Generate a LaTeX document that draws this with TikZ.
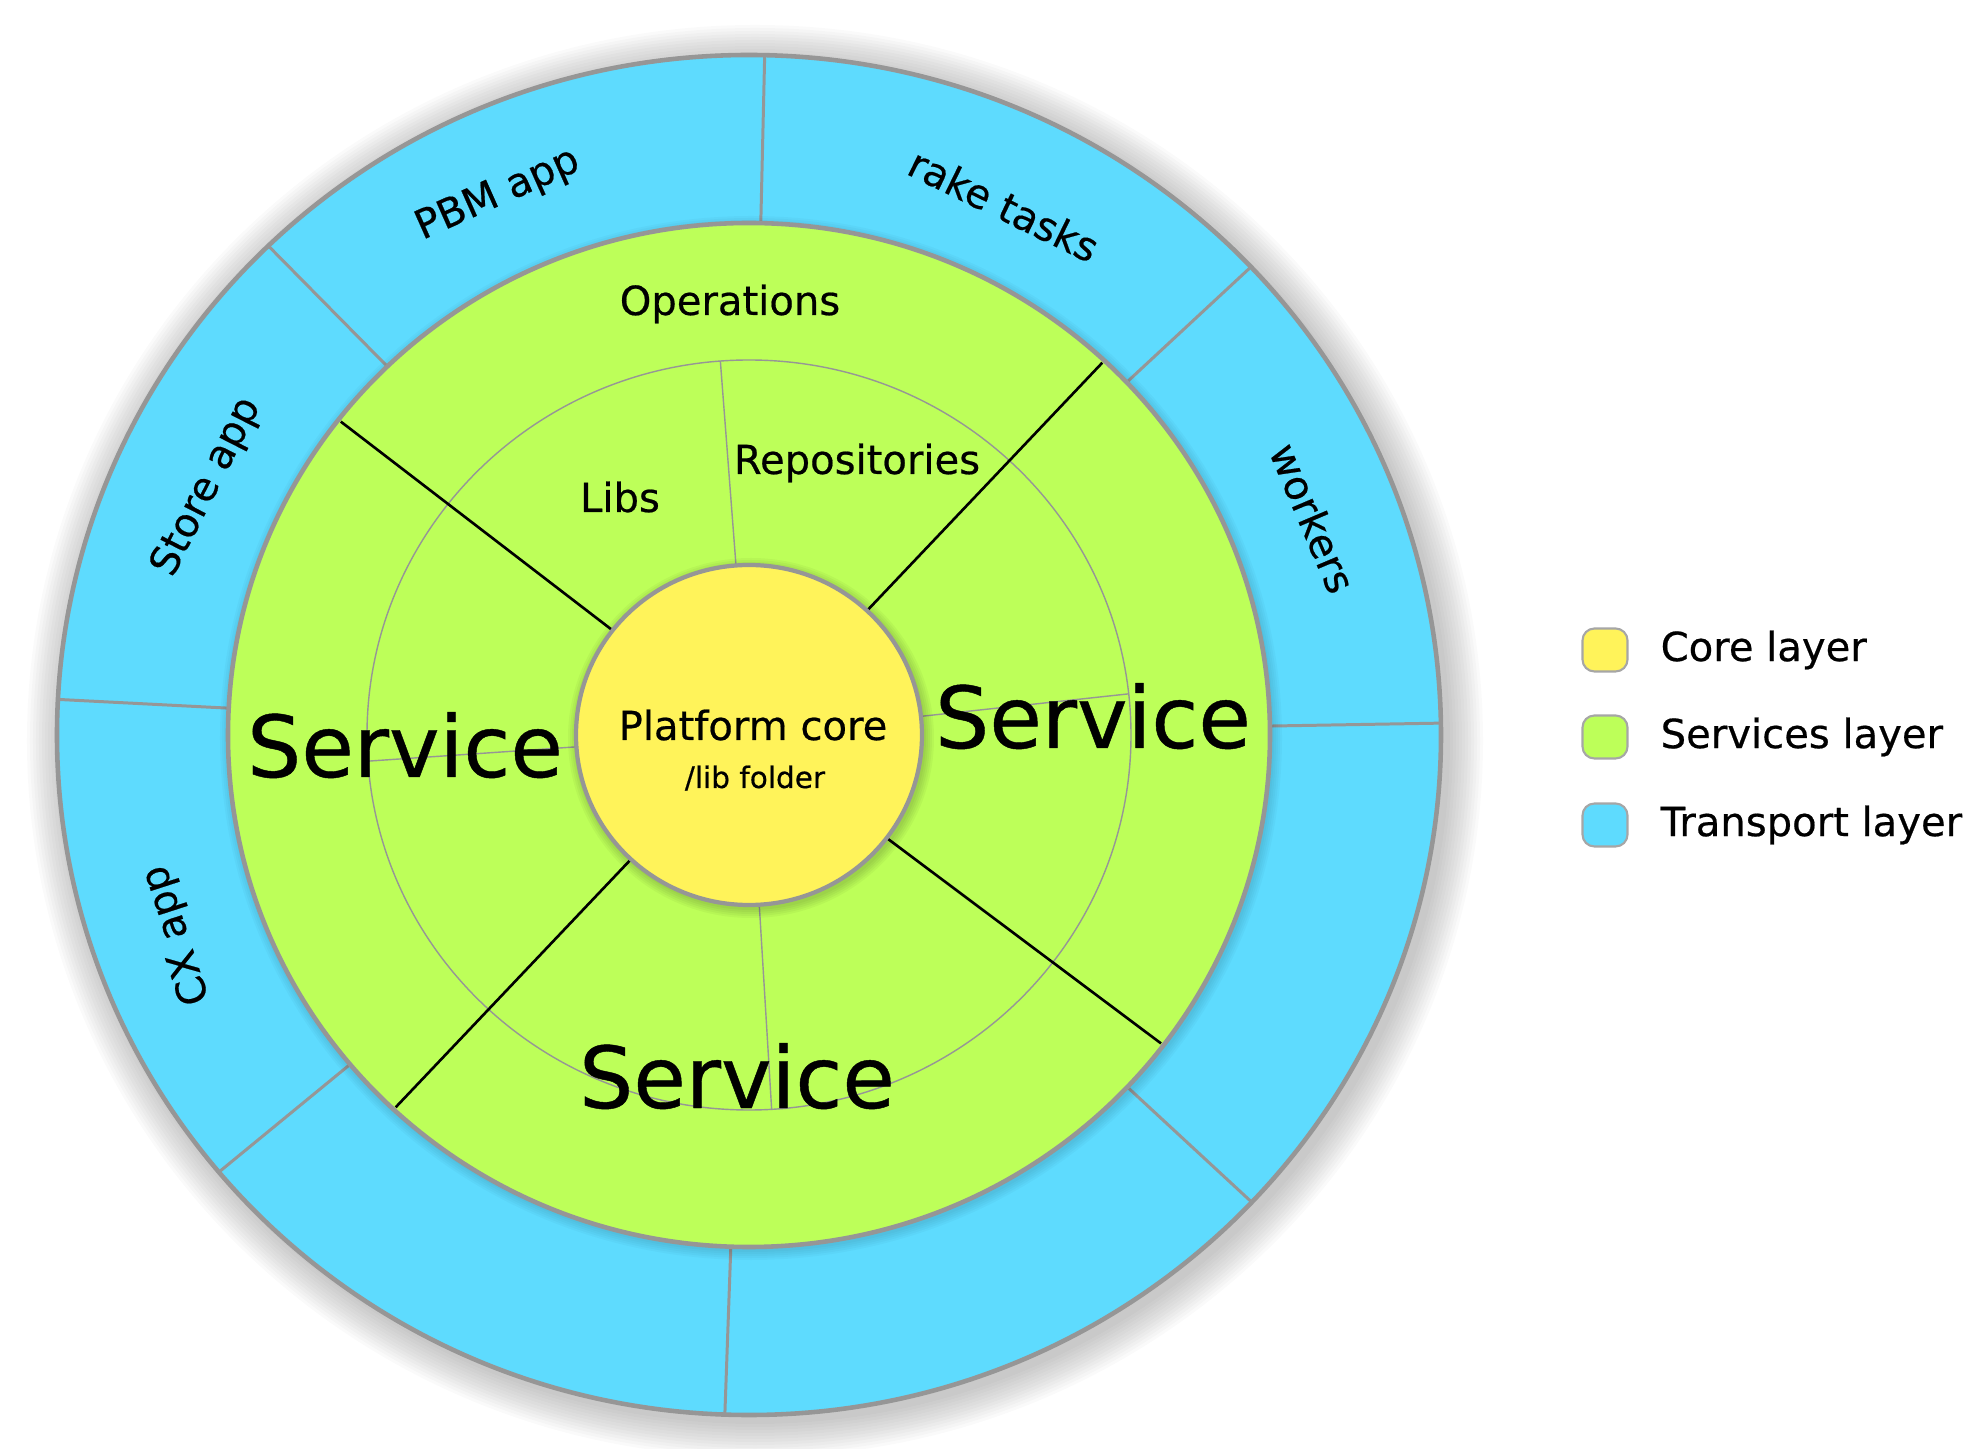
\documentclass[tikz,border=0pt]{standalone}
\usepackage{fontspec}
\setmainfont{DejaVu Sans}[BoldFont={DejaVu Sans},BoldFeatures={FakeBold=0.5}]
\definecolor{coreYellow}{RGB}{255,243,90}
\definecolor{serviceGreen}{RGB}{189,255,89}
\definecolor{transportBlue}{RGB}{94,219,254}
\definecolor{ringGray}{RGB}{150,150,150}

\begin{document}
\begin{tikzpicture}
[x=0.01cm,y=0.01cm,%
  ringDecorate/.style={draw=ringGray,line width=1.3pt},%
  sepDecorate/.style={ringGray,line width=0.85pt},%
  thinDecorate/.style={ringGray,line width=0.4pt},%
  lineDecorate/.style={black,line width=0.75pt},%
  labelDecorate/.style={inner sep=0pt,font=\fontsize{11.4}{13}\selectfont\bfseries},%
  serviceDecorate/.style={inner sep=0pt,anchor=base,font=\fontsize{24.3}{28}\selectfont\bfseries},%
  keyDecorate/.style={draw=black!35,line width=0.6pt,rounded corners=3.4pt,%
    minimum width=0.45cm,minimum height=0.43cm,inner sep=0pt}]
\useasboundingbox (-749,-714) rectangle (1227,735);
%% soft shadow under the rings
\foreach \i [evaluate=\i as \rx using 692+3*\i, evaluate=\i as \ry using 680+3*\i] in {1,...,12}
{
  \fill[black,opacity=0.018] (6,-6) ellipse [x radius=\rx, y radius=\ry];
}
%% transport layer
\filldraw[fill=transportBlue,ringDecorate] (0,0) ellipse [x radius=692, y radius=680];
\foreach \ang in {88.7,43.5,1,-43.4,-92,-140,177,134}
{
  \draw[sepDecorate] (\ang:505 and 497) -- (\ang:692 and 680);
}
%% services layer
\foreach \i [evaluate=\i as \rx using 521+2*\i, evaluate=\i as \ry using 512+2*\i] in {1,...,5}
{
  \fill[black,opacity=0.025] (2,-3) ellipse [x radius=\rx, y radius=\ry];
}
\filldraw[fill=serviceGreen,ringDecorate] (0,0) ellipse [x radius=521, y radius=512];
\draw[thinDecorate] (0,0) ellipse [x radius=382, y radius=375];
\foreach \ang in {94.3,6.3,-86.6,184}
{
  \draw[thinDecorate] (\ang:165 and 162) -- (\ang:382 and 375);
}
\foreach \ang in {142,47,-37.3,-133}
{
  \draw[lineDecorate] (\ang:165 and 162) -- (\ang:518 and 509);
}
%% core layer
\foreach \i [evaluate=\i as \rx using 173+2*\i, evaluate=\i as \ry using 170+2*\i] in {1,...,5}
{
  \fill[black,opacity=0.035] (2,-3) ellipse [x radius=\rx, y radius=\ry];
}
\filldraw[fill=coreYellow,draw=ringGray,line width=1.2pt] (0,0) ellipse [x radius=173, y radius=170];
%% texts
\node[labelDecorate,anchor=base] (coreLabel) at (4,-5) {Platform core};
\node[inner sep=0pt,anchor=base,font=\fontsize{8.4}{10}\selectfont\bfseries] (libFolder) at (6,-53) {/lib folder};
\node[labelDecorate,anchor=base] (opsLabel) at (-19,420) {Operations};
\node[labelDecorate,anchor=base] (libsLabel) at (-129,223) {Libs};
\node[labelDecorate,anchor=base] (repoLabel) at (108,261) {Repositories};
\node[serviceDecorate] (serviceLeft) at (-344,-42) {Service};
\node[serviceDecorate] (serviceRight) at (344,-13) {Service};
\node[serviceDecorate] (serviceBottom) at (-12,-373) {Service};
\foreach \nodename/\x/\y/\rot/\txt in {pbmApp/-251/540/24/PBM app, rakeTasks/255/530/-26/rake tasks,%
  workers/564/217/-67/workers, storeApp/-542/248/63/Store app, cxApp/-572/-200/108/CX app}
{
  \node[labelDecorate,rotate=\rot] (\nodename) at (\x,\y) {\txt};
}
%% legend
\foreach \nodename/\col/\y/\txt in {coreKey/coreYellow/85/Core layer,%
  servicesKey/serviceGreen/-2/Services layer, transportKey/transportBlue/-90/Transport layer}
{
  \node[keyDecorate,fill=\col] (\nodename) at (856,\y) {};
  \node[labelDecorate,anchor=west] (\nodename Text) at (911,\y) {\txt};
}
\end{tikzpicture}
\end{document}
